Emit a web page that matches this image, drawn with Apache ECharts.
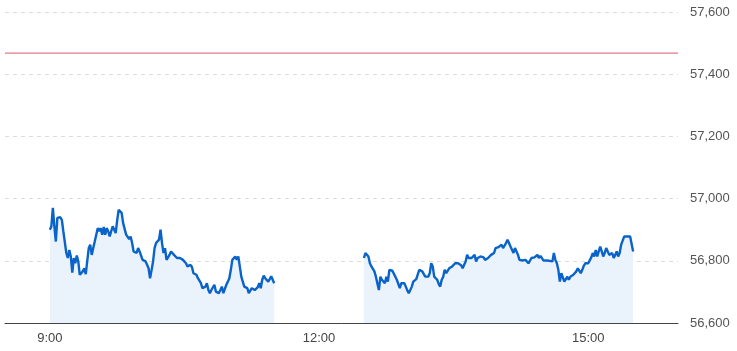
<!DOCTYPE html>
<html>
<head>
<meta charset="utf-8">
<script src="https://cdn.jsdelivr.net/npm/echarts@6/dist/echarts.min.js"></script>
<style>html,body{margin:0;padding:0;background:#fff}#c{width:737px;height:351px}</style>
</head>
<body>
<div id="c"></div>
<script>
// Session windows
var axisStart = '8:30';
var axisEnd = '16:00';
var morningStart = '9:00';
var afternoonStart = '12:30';
var xTickLabels = ['9:00', '12:00', '15:00'];
var yMin = 56600, yMax = 57600, yStep = 200;
var prevClose = 57468;

// Morning session 9:00-11:30, one value per minute
var morningValues = [
  56900,56911,56970,56911,56862,56938,56943,56940,56932,56895,56889,
  56825,56809,56835,56814,56762,56809,56792,56817,56798,56755,56760,
  56766,56776,56757,56800,56841,56852,56819,56841,56862,56868,56905,
  56895,56905,56884,56909,56884,56905,56895,56878,56895,56911,56911,
  56889,56930,56964,56970,56954,56921,56916,56884,56878,56870,56878,
  56857,56830,56835,56825,56841,56830,56825,56803,56801,56798,56787,
  56776,56744,56770,56798,56841,56857,56859,56868,56900,56857,56825,
  56841,56803,56809,56819,56830,56825,56819,56825,56809,56803,56809,
  56809,56803,56798,56792,56782,56787,56787,56780,56760,56766,56755,
  56744,56739,56728,56712,56717,56717,56728,56706,56696,56706,56701,
  56723,56701,56706,56696,56706,56717,56696,56701,56723,56733,56744,
  56771,56803,56809,56814,56803,56814,56782,56749,56733,56717,56717,
  56712,56696,56704,56712,56706,56706,56712,56715,56728,56712,56739,56752,
  56744,56739,56733,56741,56750,56744,56728
];

// Afternoon session 12:30-15:30, one value per minute
var afternoonValues = [
  56809,56825,56827,56814,56792,56782,56784,56766,56749,56727,56706,
  56749,56739,56733,56728,56749,56733,56771,56766,56768,56766,56749,
  56739,56733,56712,56728,56723,56728,56717,56705,56696,56706,56717,
  56733,56739,56741,56756,56771,56771,56766,56760,56749,56752,56749,
  56760,56792,56782,56749,56744,56739,56726,56717,56739,56749,56771,
  56760,56766,56776,56779,56782,56787,56792,56795,56792,56798,56786,
  56776,56787,56798,56819,56809,56803,56809,56814,56819,56798,56809,
  56803,56814,56819,56811,56803,56809,56809,56814,56819,56814,56825,
  56841,56846,56844,56841,56852,56841,56835,56857,56868,56857,56846,
  56841,56825,56841,56846,56819,56803,56798,56801,56798,56803,56809,
  56792,56798,56809,56803,56811,56814,56819,56809,56816,56809,56801,
  56803,56801,56798,56800,56801,56798,56825,56803,56792,56771,56733,
  56760,56766,56733,56741,56749,56739,56749,56744,56755,56760,56766,
  56776,56771,56760,56771,56784,56792,56792,56792,56798,56811,56825,
  56814,56835,56814,56830,56846,56830,56814,56825,56841,56835,56819,56814,
  56825,56809,56819,56830,56814,56825,56852,56857,56878,56878,56878,
  56878,56878,56878,56830
];

function toMin(s){var p=s.split(':');return (+p[0])*60+(+p[1]);}
function fmt(m){return Math.floor(m/60)+':'+('0'+(m%60)).slice(-2);}

var categories = [];
for (var m = toMin(axisStart); m <= toMin(axisEnd); m++) categories.push(fmt(m));

var seriesData = categories.map(function(){return null;});
var mi = categories.indexOf(morningStart);
morningValues.forEach(function(v,i){seriesData[mi+i]=v;});
var ai = categories.indexOf(afternoonStart);
afternoonValues.forEach(function(v,i){seriesData[ai+i]=v;});

var chart = echarts.init(document.getElementById('c'), null, {renderer:'canvas'});
chart.setOption({
  animation: false,
  grid: {left: 5, right: 59, top: 12, bottom: 28},
  xAxis: {
    type: 'category',
    data: categories,
    boundaryGap: false,
    axisTick: {show: false},
    axisLine: {show: true, lineStyle: {color: '#444', width: 1}},
    axisLabel: {
      color: '#444', fontSize: 13, fontFamily: 'Arial, Liberation Sans, sans-serif', margin: 9,
      interval: function(idx, val){ return xTickLabels.indexOf(val) >= 0; }
    },
    splitLine: {show: false}
  },
  yAxis: {
    type: 'value',
    position: 'right',
    min: yMin, max: yMax, interval: yStep,
    axisLine: {show: false},
    axisTick: {show: false},
    axisLabel: {
      color: '#555', fontSize: 13, fontFamily: 'Arial, Liberation Sans, sans-serif', margin: 12,
      formatter: function(v){ return v.toLocaleString('en-US'); }
    },
    splitLine: {show: true, lineStyle: {color: '#dcdcdc', type: [4,4], width: 1}}
  },
  series: [{
    type: 'line',
    data: seriesData,
    connectNulls: false,
    showSymbol: false,
    symbol: 'none',
    lineStyle: {color: '#0a63c9', width: 2.4},
    itemStyle: {color: '#0a63c9'},
    areaStyle: {color: '#eaf2fb', opacity: 1}
  }, {
    type: 'line',
    data: [[axisStart, prevClose], [axisEnd, prevClose]],
    showSymbol: false,
    symbol: 'none',
    silent: true,
    z: 3,
    lineStyle: {color: '#e2798a', width: 1.2, type: 'solid'},
    itemStyle: {color: '#e2798a'}
  }]
});
</script>
</body>
</html>
